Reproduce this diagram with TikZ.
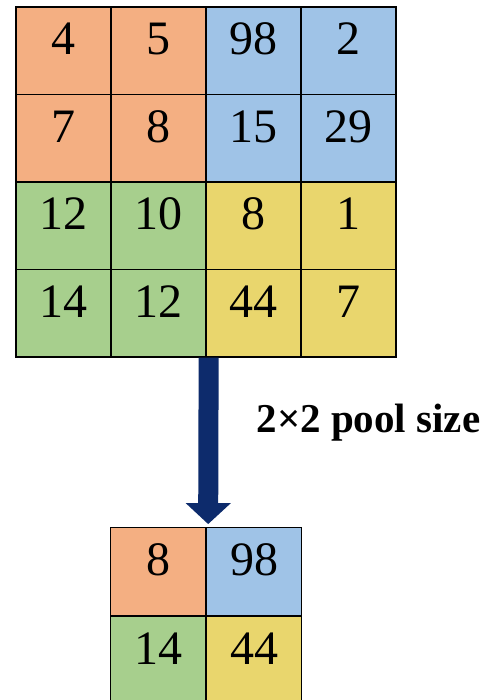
\documentclass[tikz,border=0pt]{standalone}
\usepackage{fontspec}
\setmainfont{Liberation Serif}
\usetikzlibrary{arrows.meta,positioning}
\definecolor{poolorange}{HTML}{F4AF82}
\definecolor{poolblue}{HTML}{9FC3E7}
\definecolor{poolgreen}{HTML}{A7CF8D}
\definecolor{poolyellow}{HTML}{E9D66D}
\definecolor{poolnavy}{HTML}{0D2B6C}
\tikzset{
  cell/.style={draw=black, line width=1.3pt, minimum width=95pt, minimum height=87.5pt,
    inner sep=0pt, text height=48pt, text depth=39.5pt, font=\fontsize{48}{50}\selectfont},
  poolarrow/.style={poolnavy, line width=20pt, -{Triangle[width=44pt,length=21pt]}, shorten >=3pt}
}
\begin{document}
\begin{tikzpicture}[x=1pt,y=-1pt]
\useasboundingbox (0,0) rectangle (496,700);
% input feature map
\foreach \r/\a/\b/\c/\d/\cl/\cr in {0/4/5/98/2/poolorange/poolblue,
  1/7/8/15/29/poolorange/poolblue,
  2/12/10/8/1/poolgreen/poolyellow,
  3/14/12/44/7/poolgreen/poolyellow}
{
    \node[cell, fill=\cl] (t\r0) at (63.5, 50.75+87.5*\r) {\a};
    \node[cell, fill=\cl] (t\r1) at (158.5, 50.75+87.5*\r) {\b};
    \node[cell, fill=\cr] (t\r2) at (253.5, 50.75+87.5*\r) {\c};
    \node[cell, fill=\cr] (t\r3) at (348.5, 50.75+87.5*\r) {\d};
}

% pooled output
\node[cell, fill=poolorange] (b00) at (158, 571.5) {8};
\node[cell, fill=poolblue, right=0pt of b00] (b01) {98};
\node[cell, fill=poolgreen, below=0pt of b00] (b10) {14};
\node[cell, fill=poolyellow, right=0pt of b10] (b11) {44};

\draw[poolarrow] ([xshift=2pt]t31.south east) -- ([xshift=2pt]b00.north east);
\node[anchor=base west, font=\bfseries\fontsize{41}{44}\selectfont] (poollabel) at (253,432) {2×2 pool size};
\end{tikzpicture}
\end{document}
